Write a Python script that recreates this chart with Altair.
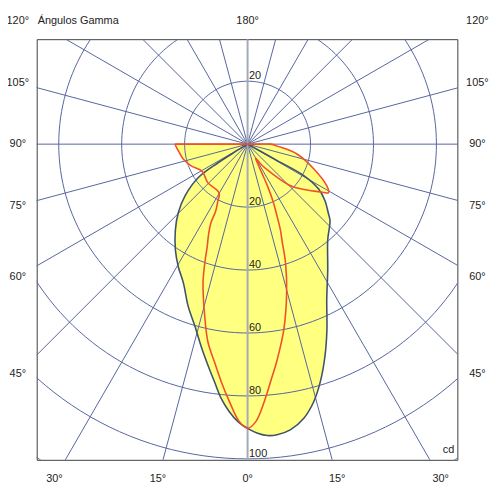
import altair as alt
import pandas as pd

# ---- photometric data (gamma in degrees, signed; intensity in cd) ----
# C0-C180 plane (dark blue-grey curve)
blue_gamma = [-60, -58.5, -57.7, -55.8, -50.5, -45.4, -40.0, -34.3, -29.4, -24.9,
              -20.1, -16.2, -13.0, -10.1, -7.9, -5.9, -3.9, -2.0, 0, 2.0,
              3.9, 5.8, 8.5, 11.6, 14.4, 17.0, 20.1, 23.2, 27.0, 32.5,
              39.9, 47.2, 49.3, 53.9, 57.7, 60.7, 61.0, 61.0]
blue_cd = [0, 5, 11.2, 19.0, 25.7, 30.9, 35.7, 40.7, 44.8, 48.5,
           54.9, 60.1, 65.8, 71.5, 76.3, 81.3, 85.2, 88.2, 90.3, 91.9,
           92.8, 92.8, 91.8, 88.9, 84.5, 79.0, 71.6, 64.0, 55.4, 47.4,
           39.7, 35.7, 33.9, 30.4, 26.7, 20.6, 10.8, 0]

# C90-C270 plane (red curve)
red_gamma = [-90, -90, -90, -90, -84, -77, -69, -59, -46, -33, -29.5, -27.5,
             -25.5, -25.0, -23.5, -21.5, -20.0, -17.8, -14.0, -11.3, -8.6, -6.3,
             -4.0, -1.7, 0, 1.7, 3.7, 5.5, 7.9, 11.1, 14.7, 17.7,
             19.5, 20.9, 22.5, 24.0, 25.5, 26.3, 27.5, 29.7, 34.0, 39.1,
             45.9, 52.3, 56.2, 59.1, 62.3, 69.5, 78.7, 86.2, 90, 90, 90]
red_cd = [0, 11.5, 22.6, 23.0, 22.0, 21.0, 19.2, 16.8, 17.6, 17.6, 18.2, 20.5,
          23.5, 27.5, 31.0, 35.0, 39.5, 46.3, 56.3, 64.2, 70.1, 76.0,
          82.1, 88.2, 90.3, 88.2, 82.0, 75.9, 68.9, 59.9, 48.9, 39.7,
          33.0, 29.3, 24.0, 20.0, 14.5, 10.0, 7.0, 5.1, 8.0, 11.6,
          19.0, 23.8, 27.1, 30.0, 28.4, 22.5, 16.0, 9.5, 7.5, 3.5, 0]

# grid
ring_values = [20, 40, 60, 80, 100, 120]
ring_labels = [20, 40, 60, 80, 100]
spoke_angles = list(range(0, 360, 15))
side_gamma = [45, 60, 75, 90, 105]
bottom_gamma = [-30, -15, 0, 15, 30]

BLUE = "#3f5469"
RED = "#f0502a"
GRID = "#5565a0"
AXIS_GREY = "#a3abb6"
FILL = "#ffff80"
TXT = "#222222"
FONT = "Liberation Sans"
INTERP = "catmull-rom"

curves = pd.concat([
    pd.DataFrame({"curve": "C0", "order": range(len(blue_gamma)), "gamma": blue_gamma, "cd": blue_cd}),
    pd.DataFrame({"curve": "C90", "order": range(len(red_gamma)), "gamma": red_gamma, "cd": red_cd}),
], ignore_index=True)

rings = pd.DataFrame([{"ring": r, "a": a} for r in ring_values for a in range(0, 362, 2)])
spokes = pd.DataFrame({"a": spoke_angles})

xs = alt.Scale(domain=[-67, 66.65], nice=False, zero=False)
ys = alt.Scale(domain=[-100.3, 33.35], nice=False, zero=False)
X = alt.X("x:Q", scale=xs, axis=None)
Y = alt.Y("y:Q", scale=ys, axis=None)

cbase = alt.Chart(curves).transform_calculate(
    x="datum.cd * sin(datum.gamma * PI / 180)",
    y="-datum.cd * cos(datum.gamma * PI / 180)",
)

fill = cbase.mark_line(fill=FILL, strokeOpacity=0, clip=True, interpolate=INTERP).encode(
    X, Y, detail="curve:N", order="order:Q")

ring_layer = alt.Chart(rings).transform_calculate(
    x="datum.ring * sin(datum.a * PI / 180)",
    y="-datum.ring * cos(datum.a * PI / 180)",
).mark_line(color=GRID, strokeWidth=1, clip=True).encode(
    X, Y, detail="ring:N", order="a:Q")

sbase = alt.Chart(spokes).transform_calculate(
    x0="0", y0="0",
    x2="150 * sin(datum.a * PI / 180)",
    y2="-150 * cos(datum.a * PI / 180)",
)
spoke_layer = sbase.transform_filter("datum.a % 180 != 0").mark_rule(
    color=GRID, strokeWidth=1, clip=True).encode(
    x=alt.X("x0:Q", scale=xs, axis=None), y=alt.Y("y0:Q", scale=ys, axis=None),
    x2="x2:Q", y2="y2:Q")
vert_layer = sbase.transform_filter("datum.a % 180 == 0").mark_rule(
    color=AXIS_GREY, strokeWidth=2, clip=True).encode(
    x=alt.X("x0:Q", scale=xs, axis=None), y=alt.Y("y0:Q", scale=ys, axis=None),
    x2="x2:Q", y2="y2:Q")

blue_line = cbase.transform_filter("datum.curve == 'C0'").mark_line(
    color=BLUE, strokeWidth=1.6, clip=True, interpolate=INTERP).encode(X, Y, order="order:Q")
red_line = cbase.transform_filter("datum.curve == 'C90'").mark_line(
    color=RED, strokeWidth=1.6, clip=True, interpolate=INTERP).encode(X, Y, order="order:Q")

# intensity labels on the vertical axis
lab = pd.DataFrame({"v": ring_labels + [20], "s": [-1] * len(ring_labels) + [1]})
ring_text = alt.Chart(lab).transform_calculate(
    x="0", y="datum.s * datum.v", t="'' + datum.v"
).mark_text(align="left", baseline="bottom", dx=1.5, fontSize=11, font=FONT, color=TXT).encode(
    X, Y, text="t:N")

# gamma labels on the sides
side = pd.DataFrame([{"g": g, "s": s} for g in side_gamma for s in (-1, 1)])
side_text = alt.Chart(side).transform_calculate(
    x="datum.s * 73",
    y="-73 * cos(datum.g * PI / 180) / sin(datum.g * PI / 180)",
    t="datum.g + '°'",
).mark_text(align="center", baseline="middle", fontSize=11, font=FONT, color=TXT).encode(
    X, Y, text="t:N")

bot = pd.DataFrame({"g": bottom_gamma})
bottom_text = alt.Chart(bot).transform_calculate(
    x="106.3 * tan(datum.g * PI / 180)",
    y="-106.3",
    t="abs(datum.g) + '°'",
).mark_text(align="center", baseline="middle", fontSize=11, font=FONT, color=TXT).encode(
    X, Y, text="t:N")

top = pd.DataFrame({"t": ["120°", "180°", "120°"], "x": [-73, 0, 73], "y": [39.2, 39.2, 39.2]})
top_text = alt.Chart(top).mark_text(align="center", baseline="middle", fontSize=11,
                                    font=FONT, color=TXT).encode(X, Y, text="t:N")

notes = pd.DataFrame({"t": ["Ángulos Gamma"], "x": [-67], "y": [39.2]})
title_text = alt.Chart(notes).mark_text(align="left", baseline="middle", dx=1, fontSize=11,
                                        font=FONT, color=TXT).encode(X, Y, text="t:N")
cd_df = pd.DataFrame({"t": ["cd"], "x": [65.7], "y": [-97.3]})
cd_text = alt.Chart(cd_df).mark_text(align="right", baseline="middle", fontSize=11,
                                     font=FONT, color=TXT).encode(X, Y, text="t:N")

chart = alt.layer(
    fill, ring_layer, spoke_layer, vert_layer, blue_line, red_line,
    ring_text, side_text, bottom_text, top_text, title_text, cd_text,
).properties(
    width=425, height=425,
    autosize=alt.AutoSizeParams(type="none"),
    padding={"left": 29, "top": 29, "right": 35, "bottom": 30},
).configure_view(stroke="#404040", strokeWidth=1)

chart.save("out.html", embed_options={"renderer": "svg", "actions": False})
